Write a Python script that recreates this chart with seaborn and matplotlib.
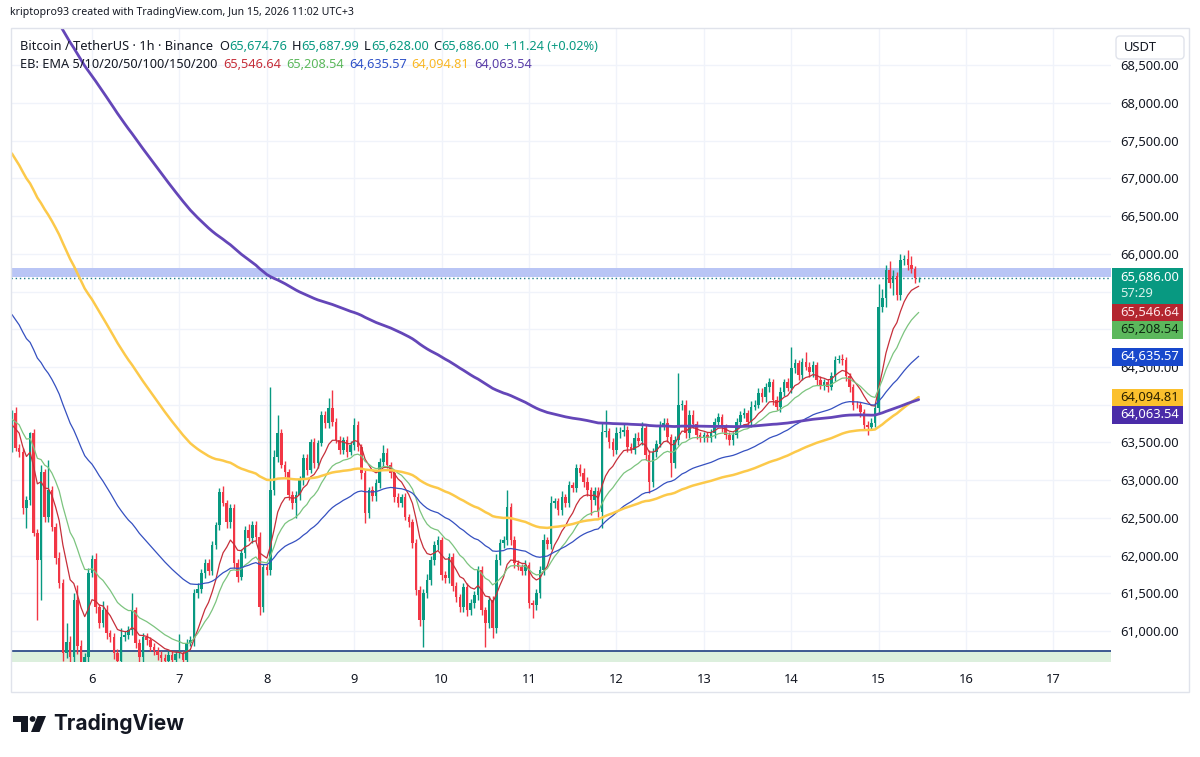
"""
BTC/USDT 1h chart with EMA ribbon, TradingView-style snapshot
"""

import numpy as np
import pandas as pd
import matplotlib
matplotlib.use("Agg")
import matplotlib.pyplot as plt
from matplotlib.patches import Rectangle, FancyBboxPatch, Circle, Polygon
import seaborn as sns

# ---- data ----------------------------------------------------------------
first_hour = 2          # first candle: Jun 5 02:00 (UTC+3), hours counted from Jun 5 00:00
first_open = 63730

closes = [
    63889, 63425, 63372, 62630, 62736, 63624, 62298, 61940, 63107, 62510,
    62868, 62378, 61967, 61635, 60707, 60850, 60650, 61410, 60800, 60550,
    60650, 61770, 61950, 61317, 61105, 61280, 60970, 60920, 60707, 60600,
    60920, 60950, 61012, 61277, 60840, 60650, 60920, 60880, 60790, 60740,
    60680, 60640, 60600, 60680, 60620, 60690, 60700, 60620, 60840, 60880,
    61503, 61560, 61768, 61900, 61800, 62140, 62405, 62842, 62700, 62444,
    62630, 61900, 61715, 62033, 62338, 62230, 62400, 62250, 61317, 61850,
    61808, 62868, 63306, 63624, 63200, 63107, 62802, 62700, 62802, 63001,
    63293, 63130, 63505, 63226, 63492, 63863, 63757, 63956, 63770, 63531,
    63400, 63531, 63372, 63465, 63730, 63440, 63094, 62563, 62868, 62790,
    62960, 63240, 63360, 63200, 63094, 62776, 62700, 62776, 62510, 62440,
    62166, 61543, 61145, 61503, 61675, 61940, 62139, 62206, 61741, 61700,
    61980, 61590, 61450, 61317, 61582, 61277, 61370, 61476, 61808, 61277,
    61105, 61410, 61039, 61940, 62166, 62200, 62643, 62206, 61900, 61850,
    61800, 61880, 61370, 61340, 61503, 61808, 62206, 62150, 62696, 62720,
    62600, 62776, 62700, 62935, 62900, 63160, 63100, 62975, 62868, 62736,
    62850, 62577, 63637, 63650, 63500, 63400, 63624, 63640, 63660, 63438,
    63400, 63560, 63520, 63690, 63333, 62975, 63372, 63476, 63730, 63760,
    63570, 63226, 63530, 63995, 64000, 63624, 63870, 63750, 63600, 63570,
    63600, 63560, 63624, 63770, 63836, 63704, 63600, 63530, 63600, 63770,
    63863, 63890, 63770, 63969, 64000, 64155, 64100, 64234, 64300, 64062,
    63969, 64170, 64300, 64220, 64486, 64550, 64390, 64565, 64500, 64430,
    64520, 64327, 64250, 64300, 64234, 64380, 64592, 64600, 64592, 64380,
    64234, 63995, 63990, 63900, 63730, 63700, 63760, 63956, 65295, 65414,
    65786, 65612, 65700, 65453, 65918, 65930, 65850, 65800, 65675, 65686,
]

# wick lengths above max(open, close) and below min(open, close), in USDT
upper_wick = [
    40, 80, 60, 50, 60, 20, 50, 60, 100, 40,
    400, 60, 50, 80, 60, 250, 80, 100, 200, 80,
    60, 60, 60, 80, 40, 120, 60, 40, 60, 50,
    120, 50, 60, 230, 40, 60, 60, 60, 40, 50,
    50, 50, 60, 50, 60, 40, 260, 40, 60, 60,
    60, 80, 60, 60, 60, 50, 40, 60, 80, 40,
    60, 50, 60, 50, 60, 80, 60, 60, 60, 40,
    40, 1370, 100, 240, 60, 60, 40, 50, 60, 60,
    60, 60, 40, 60, 40, 50, 60, 130, 240, 60,
    60, 40, 60, 60, 100, 60, 40, 40, 40, 50,
    60, 60, 100, 60, 40, 40, 50, 40, 60, 40,
    40, 60, 60, 60, 80, 60, 60, 60, 40, 60,
    60, 50, 60, 40, 60, 60, 60, 60, 60, 60,
    40, 60, 60, 80, 60, 60, 220, 60, 50, 40,
    40, 60, 40, 40, 60, 60, 80, 40, 100, 40,
    40, 80, 40, 60, 40, 60, 60, 60, 60, 40,
    60, 60, 130, 280, 40, 60, 80, 60, 80, 60,
    60, 60, 80, 80, 60, 60, 60, 60, 60, 60,
    60, 40, 60, 420, 60, 60, 60, 60, 40, 40,
    40, 40, 60, 60, 60, 40, 40, 40, 40, 60,
    60, 60, 40, 80, 60, 60, 60, 60, 60, 40,
    60, 60, 40, 60, 280, 60, 40, 60, 140, 60,
    60, 40, 60, 40, 40, 60, 60, 60, 70, 40,
    40, 40, 60, 40, 40, 60, 60, 60, 300, 120,
    60, 120, 80, 60, 80, 60, 120, 120, 40, 2,
]
lower_wick = [
    360, 40, 60, 80, 270, 60, 40, 800, 530, 60,
    60, 50, 80, 60, 100, 60, 100, 60, 100, 80,
    60, 100, 60, 80, 60, 50, 80, 60, 80, 60,
    60, 50, 50, 60, 60, 60, 60, 60, 50, 60,
    60, 60, 60, 40, 60, 50, 50, 60, 60, 40,
    80, 60, 60, 60, 60, 60, 50, 60, 40, 80,
    80, 60, 60, 40, 60, 40, 60, 60, 110, 60,
    60, 60, 60, 60, 40, 60, 60, 80, 200, 60,
    60, 60, 40, 60, 60, 40, 60, 60, 50, 40,
    60, 60, 60, 40, 60, 60, 80, 130, 60, 60,
    60, 60, 60, 40, 60, 60, 60, 60, 40, 60,
    60, 60, 80, 360, 60, 60, 60, 60, 60, 60,
    60, 60, 60, 60, 60, 80, 60, 60, 60, 60,
    320, 60, 130, 60, 60, 60, 60, 60, 60, 40,
    60, 60, 60, 170, 60, 60, 60, 60, 60, 60,
    60, 60, 60, 60, 60, 60, 40, 60, 80, 200,
    60, 60, 210, 60, 80, 80, 60, 60, 60, 60,
    40, 60, 60, 60, 60, 140, 60, 60, 40, 60,
    60, 180, 60, 60, 60, 60, 60, 60, 60, 60,
    60, 60, 60, 60, 40, 60, 60, 60, 60, 40,
    60, 40, 60, 60, 40, 40, 60, 60, 60, 60,
    40, 60, 60, 40, 60, 60, 60, 60, 40, 60,
    60, 60, 40, 60, 60, 40, 60, 40, 60, 60,
    60, 60, 40, 60, 60, 100, 40, 60, 60, 60,
    120, 60, 160, 60, 60, 60, 60, 60, 60, 47,
]

day_labels = ["6", "7", "8", "9", "10", "11", "12", "13", "14", "15", "16", "17"]
bold_days = ["8", "15"]
price_ticks = [61000, 61500, 62000, 62500, 63000, 63500, 64000, 64500,
               65000, 65500, 66000, 66500, 67000, 67500, 68000, 68500]
covered_ticks = [64000, 65000, 65500]   # hidden under the price tags

ema_names = ["ema10", "ema20", "ema50", "ema100", "ema200"]
ema_spans = [10, 20, 50, 100, 200]
ema_seeds = [63700, 63800, 65250, 67400, 70000]   # level of each line at the left edge
ema_values = [65546.64, 65208.54, 64635.57, 64094.81, 64063.54]

last_price = 65686.00
countdown = "57:29"
zone_low, zone_high = 65697, 65808      # blue resistance band
support = 60733                         # green support band top

# ---- colours ----------------------------------------------------------------
UP = "#089981"
DOWN = "#f23645"
INK = "#131722"
ema_colors = ["#c62f3a", "#7cc47f", "#3550c0", "#fcc94a", "#6446b8"]
ema_widths = [0.9, 0.9, 0.9, 1.8, 2.0]
legend_colors = ["#c62f3a", "#5cb85c", "#2f52c8", "#f9b826", "#5a3ea8"]
box_bg = ["#b3262f", "#5cb85c", "#1848cc", "#fbc02d", "#4a2ba8"]
box_fg = ["#fde4e6", "#0f2a12", "#ffffff", "#2b2100", "#ffffff"]

# ---- derived series --------------------------------------------------------
n = len(closes)
hours = np.arange(n) + first_hour
c = np.array(closes, dtype=float)
o = np.concatenate([[first_open], c[:-1]])
hi = np.maximum(o, c) + np.array(upper_wick)
lo = np.minimum(o, c) - np.array(lower_wick)


def ema(values, span, seed):
    s = pd.Series(np.concatenate([[seed], values]))
    return s.ewm(span=span, adjust=False).mean().iloc[1:].to_numpy()


df = pd.DataFrame({"hour": hours, "open": o, "high": hi, "low": lo, "close": c})
for name, span, seed in zip(ema_names, ema_spans, ema_seeds):
    df[name] = ema(c, span, seed)

# ---- figure -----------------------------------------------------------------
sns.set_theme(style="white")
plt.rcParams["font.family"] = ["Noto Sans", "DejaVu Sans"]

W, H = 1200, 757
fig = plt.figure(figsize=(W / 100, H / 100), dpi=100)
fig.patch.set_facecolor("white")

ax = fig.add_axes([11 / W, 1 - 662 / H, 1100 / W, 634 / H])
ax.set_facecolor("white")
ax.set_xlim(1.76, 303.8)
ax.set_ylim(60589, 68994)

ax.grid(True, color="#f0f3fa", linewidth=1)
for s in ax.spines.values():
    s.set_visible(False)

# bands and levels
ax.axhspan(zone_low, zone_high, color="#b9c5f5", zorder=0.6, lw=0)
ax.axhspan(60000, support, color="#dcefdd", zorder=0.6, lw=0)
ax.axhline(support, color="#2f4c8a", lw=1.3, zorder=0.7)
ax.axhline(last_price, color="#1e7f8a", lw=1, ls=(0, (1, 2)), zorder=0.8)

# candles
col = np.where(c >= o, UP, DOWN)
ax.vlines(df["hour"], df["low"], df["high"], colors=col, lw=1, zorder=2)
body = np.maximum(np.abs(c - o), 10)
ax.bar(df["hour"], body, bottom=np.minimum(o, c), width=0.7, color=col,
       linewidth=0, zorder=2.1)

# EMA ribbon
for name, colr, lw in zip(ema_names, ema_colors, ema_widths):
    sns.lineplot(data=df, x="hour", y=name, color=colr, linewidth=lw, ax=ax, zorder=3)

ax.set_xlabel("")
ax.set_ylabel("")
ax.set_xticks([(int(d) - 5) * 24 for d in day_labels])
ax.set_xticklabels(day_labels)
for lbl in ax.get_xticklabels():
    lbl.set_color(INK)
    if lbl.get_text() in bold_days:
        lbl.set_fontweight("bold")
ax.yaxis.tick_right()
ax.set_yticks(price_ticks)
ax.set_yticklabels(["" if v in covered_ticks else f"{v:,.2f}" for v in price_ticks])
ax.tick_params(axis="x", length=0, pad=8, labelsize=9.3, labelcolor=INK)
ax.tick_params(axis="y", length=0, pad=7, labelsize=9.3, labelcolor=INK)

# ---- overlay in pixel coordinates ------------------------------------------
ov = fig.add_axes([0, 0, 1, 1], facecolor="none")
ov.set_xlim(0, W)
ov.set_ylim(H, 0)
ov.axis("off")

ov.add_patch(Rectangle((11, 28), 1178, 664, fill=False, ec="#e0e3eb", lw=1))

renderer = fig.canvas.get_renderer()


def fit(t, width):
    w = t.get_window_extent(renderer).width
    t.set_fontsize(t.get_fontsize() * width / w)


def row(x, y, pieces, size):
    for txt, colr, gap in pieces:
        t = ov.text(x, y, txt, color=colr, fontsize=size, ha="left", va="center")
        x += t.get_window_extent(renderer).width + gap


t = ov.text(10, 13, "kriptopro93 created with TradingView.com, Jun 15, 2026 11:02 UTC+3",
            color=INK, fontsize=10, ha="left", va="center")
fit(t, 342)

row(20, 46, [("Bitcoin / TetherUS · 1h · Binance", INK, 6),
             ("O", INK, 0), ("65,674.76", UP, 5),
             ("H", INK, 0), ("65,687.99", UP, 5),
             ("L", INK, 0), ("65,628.00", UP, 5),
             ("C", INK, 0), ("65,686.00", UP, 5),
             ("+11.24 (+0.02%)", UP, 0)], 9.2)
row(20, 64, [("EB: EMA 5/10/20/50/100/150/200", INK, 6)]
    + [(f"{v:,.2f}", lc, 5) for v, lc in zip(ema_values, legend_colors)], 9.2)

# USDT box
ov.add_patch(FancyBboxPatch((1116, 36), 68, 23, boxstyle="round,pad=0,rounding_size=4",
                            fc="white", ec="#e0e3eb", lw=1, zorder=5))
ov.text(1124, 47.5, "USDT", color=INK, fontsize=9.3, ha="left", va="center", zorder=6)


def ypix(v):
    return H - ax.transData.transform((0, v))[1]


# price tags on the scale, pushed apart where they would overlap
yp = ypix(last_price)
ov.add_patch(Rectangle((1112, yp - 10), 71, 37, fc=UP, ec="none", zorder=5))
ov.text(1120, yp, f"{last_price:,.2f}", color="white", fontsize=9.3, va="center", zorder=6)
ov.text(1120, yp + 16, countdown, color="#d9f2ec", fontsize=9.3, va="center", zorder=6)
bottom = yp + 27
for v, bg, fg in zip(ema_values, box_bg, box_fg):
    top = max(ypix(v) - 9, bottom - 1)
    ov.add_patch(Rectangle((1112, top), 71, 18, fc=bg, ec="none", zorder=5))
    ov.text(1120, top + 9, f"{v:,.2f}", color=fg, fontsize=9.3, va="center", zorder=6)
    bottom = top + 18

# TradingView logo
ov.add_patch(Polygon([(13, 716), (27.5, 716), (27.5, 732), (21, 732), (21, 721.5), (13, 721.5)],
                     closed=True, fc=INK, ec="none"))
ov.add_patch(Circle((32.6, 719), 2.9, fc=INK, ec="none"))
ov.add_patch(Polygon([(37.5, 716), (46, 716), (39.5, 732), (31, 732)],
                     closed=True, fc=INK, ec="none"))
t = ov.text(53, 724, "TradingView", color=INK, fontsize=17, fontweight="bold",
            ha="left", va="center", family=["Inter", "DejaVu Sans"])
fit(t, 131)

fig.savefig("out.png", dpi=100, facecolor="white")
